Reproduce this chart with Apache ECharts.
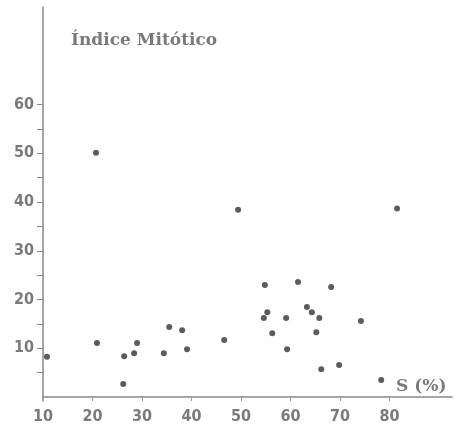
<!DOCTYPE html>
<html><head><meta charset="utf-8">
<script src="https://cdn.jsdelivr.net/npm/echarts@6/dist/echarts.min.js"></script>
<style>html,body{margin:0;padding:0;background:#fff}#c{width:454px;height:430px}</style>
</head><body><div id="c"></div>
<script>
const sPercent = [10.8, 20.7, 20.9, 26.4, 26.2, 28.4, 29.0, 34.4, 35.5, 38.1, 39.1, 46.6, 49.4, 54.8, 55.3, 54.6, 56.3, 59.1, 59.3, 61.5, 68.2, 63.3, 64.3, 65.8, 65.2, 74.2, 66.2, 69.8, 78.3, 81.5];
const indiceMitotico = [8.3, 50.1, 11.1, 8.4, 2.7, 9.0, 11.1, 9.0, 14.4, 13.7, 9.8, 11.7, 38.4, 23.0, 17.4, 16.2, 13.1, 16.2, 9.8, 23.6, 22.6, 18.5, 17.4, 16.2, 13.3, 15.6, 5.7, 6.6, 3.5, 38.7];
const xTickValues = [10, 20, 30, 40, 50, 60, 70, 80];
const yTickValues = [5, 10, 15, 20, 25, 30, 35, 40, 45, 50, 55, 60];
const yLabelValues = [10, 20, 30, 40, 50, 60];
const titleText = 'Índice Mitótico';
const xName = 'S (%)';

const points = sPercent.map((x, i) => [x, indiceMitotico[i]]);
const grey = '#7a7a7a';
const font = 'DejaVu Sans Condensed';
const serif = 'DejaVu Serif';
const chart = echarts.init(document.getElementById('c'));
chart.setOption({
  animation: false,
  backgroundColor: '#fff',
  title: [
    {text: titleText, left: 66, top: 27, textStyle: {fontFamily: serif, fontWeight: 'bold', fontSize: 17, color: grey}},
    {text: xName, left: 391, top: 373, textStyle: {fontFamily: serif, fontWeight: 'bold', fontSize: 17, color: grey}}
  ],
  grid: {left: 43, right: 2, top: 7, bottom: 29},
  xAxis: {
    type: 'value', min: 10, max: 92.6,
    splitLine: {show: false},
    axisLine: {lineStyle: {color: '#888', width: 1.5}},
    axisTick: {customValues: xTickValues, length: 4, lineStyle: {color: '#999'}},
    axisLabel: {customValues: xTickValues, margin: 8, fontFamily: font, fontWeight: 'bold', fontSize: 16, color: grey}
  },
  yAxis: {
    type: 'value', min: -0.8, max: 80,
    splitLine: {show: false},
    axisLine: {lineStyle: {color: '#888', width: 1.5}},
    axisTick: {customValues: yTickValues, length: 6, lineStyle: {color: '#888'}},
    axisLabel: {customValues: yLabelValues, margin: 9, fontFamily: font, fontWeight: 'bold', fontSize: 16, color: grey}
  },
  series: [{
    type: 'scatter', data: points, symbolSize: 6,
    itemStyle: {color: '#5c5c5c', opacity: 1}
  }]
});
</script></body></html>
